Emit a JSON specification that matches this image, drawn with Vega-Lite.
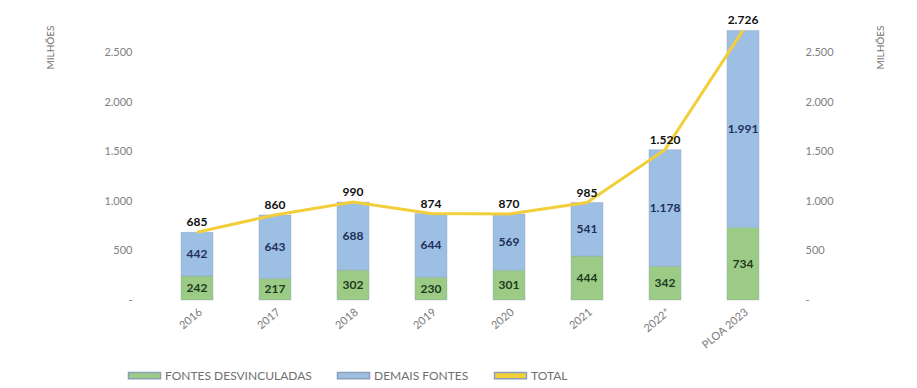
{
  "$schema": "https://vega.github.io/schema/vega-lite/v6.json",
  "autosize": {"type": "none"},
  "padding": {"left": 158, "top": 23, "right": 135, "bottom": 88},
  "width": 624,
  "height": 277,
  "background": "white",
  "config": {
    "locale": {"number": {"decimal": ",", "thousands": ".", "grouping": [3], "currency": ["R$", ""]}},
    "view": {"stroke": null},
    "font": "Lato",
    "axis": {"labelFont": "Lato", "titleFont": "Lato", "labelColor": "#808080", "labelFontSize": 11, "grid": false, "ticks": false, "domain": false}
  },
  "datasets": {
    "segments": [
      {"ano": "2016", "serie": "FONTES DESVINCULADAS", "valor": 242},
      {"ano": "2016", "serie": "DEMAIS FONTES", "valor": 442},
      {"ano": "2017", "serie": "FONTES DESVINCULADAS", "valor": 217},
      {"ano": "2017", "serie": "DEMAIS FONTES", "valor": 643},
      {"ano": "2018", "serie": "FONTES DESVINCULADAS", "valor": 302},
      {"ano": "2018", "serie": "DEMAIS FONTES", "valor": 688},
      {"ano": "2019", "serie": "FONTES DESVINCULADAS", "valor": 230},
      {"ano": "2019", "serie": "DEMAIS FONTES", "valor": 644},
      {"ano": "2020", "serie": "FONTES DESVINCULADAS", "valor": 301},
      {"ano": "2020", "serie": "DEMAIS FONTES", "valor": 569},
      {"ano": "2021", "serie": "FONTES DESVINCULADAS", "valor": 444},
      {"ano": "2021", "serie": "DEMAIS FONTES", "valor": 541},
      {"ano": "2022*", "serie": "FONTES DESVINCULADAS", "valor": 342},
      {"ano": "2022*", "serie": "DEMAIS FONTES", "valor": 1178},
      {"ano": "PLOA 2023", "serie": "FONTES DESVINCULADAS", "valor": 734},
      {"ano": "PLOA 2023", "serie": "DEMAIS FONTES", "valor": 1991}
    ],
    "totals": [
      {"ano": "2016", "total": 685},
      {"ano": "2017", "total": 860},
      {"ano": "2018", "total": 990},
      {"ano": "2019", "total": 874},
      {"ano": "2020", "total": 870},
      {"ano": "2021", "total": 985},
      {"ano": "2022*", "total": 1520},
      {"ano": "PLOA 2023", "total": 2726}
    ]
  },
  "encoding": {
    "x": {
      "field": "ano", "type": "nominal", "sort": null, "title": null,
      "scale": {"paddingInner": 0.59, "paddingOuter": 0.295},
      "axis": {"labelAngle": -40, "labelPadding": 6, "labelColor": "#7a7a7a"}
    }
  },
  "layer": [
    {
      "data": {"name": "segments"},
      "encoding": {
        "y": {
          "field": "valor", "type": "quantitative", "stack": "zero",
          "scale": {"domain": [0, 2800], "nice": false},
          "axis": {
            "orient": "left", "values": [0, 500, 1000, 1500, 2000, 2500],
            "labelExpr": "datum.value == 0 ? '-' : format(datum.value, ',d')",
            "labelPadding": 26,
            "title": "MILHÕES", "titleAngle": -90, "titleAlign": "right", "titleBaseline": "middle",
            "titleX": -108, "titleY": 2, "titleFontSize": 10, "titleFontWeight": "normal", "titleColor": "#707070"
          }
        },
        "order": {"field": "serie", "sort": "descending"}
      },
      "layer": [
        {
          "mark": {"type": "bar", "stroke": "#8aa0b8", "strokeWidth": 0.6, "strokeOpacity": 0.6},
          "encoding": {
            "color": {
              "field": "serie", "type": "nominal",
              "scale": {"domain": ["FONTES DESVINCULADAS", "DEMAIS FONTES", "TOTAL"], "range": ["#9ccb86", "#9dbfe4", "#f2cf3a"]},
              "legend": {
                "orient": "none", "direction": "horizontal", "legendX": -25, "legendY": 341,
                "title": null, "labelFont": "Lato", "labelFontSize": 12, "labelColor": "#707070",
                "symbolSize": 455, "labelOffset": 9, "columnPadding": 22,
                "symbolType": "M-1.5,-0.3L1.5,-0.3L1.5,0.3L-1.5,0.3Z",
                "encode": {"symbols": {"update": {"shape": {"signal": "datum.value === 'TOTAL' ? 'M-1.5,-0.1L1.5,-0.1L1.5,0.1L-1.5,0.1Z' : 'M-1.5,-0.3L1.5,-0.3L1.5,0.3L-1.5,0.3Z'"}, "strokeWidth": {"value": 0}}}}
              }
            }
          }
        },
        {
          "mark": {"type": "text", "fontWeight": "bold", "fontSize": 12, "baseline": "middle", "font": "Lato"},
          "encoding": {
            "y": {"field": "valor", "type": "quantitative", "stack": "zero", "bandPosition": 0.5},
            "text": {"field": "valor", "type": "quantitative", "format": ",d"},
            "color": {
              "condition": {"test": "datum.serie === 'DEMAIS FONTES'", "value": "#1f2f5a"},
              "value": "#1e3a1e"
            }
          }
        }
      ]
    },
    {
      "data": {"name": "totals"},
      "encoding": {
        "y": {
          "field": "total", "type": "quantitative",
          "scale": {"domain": [0, 2800], "nice": false},
          "axis": {
            "orient": "right", "values": [0, 500, 1000, 1500, 2000, 2500],
            "labelExpr": "datum.value == 0 ? '-' : format(datum.value, ',d')",
            "labelPadding": 23,
            "title": "MILHÕES", "titleAngle": -90, "titleAlign": "right", "titleBaseline": "middle",
            "titleX": 98, "titleY": 2, "titleFontSize": 10, "titleFontWeight": "normal", "titleColor": "#707070"
          }
        }
      },
      "layer": [
        {
          "mark": {"type": "line", "color": "#f2cf3a", "strokeWidth": 3},
          "encoding": {}
        },
        {
          "mark": {"type": "text", "fontWeight": "bold", "fontSize": 12, "baseline": "bottom", "dy": -3, "color": "#111111", "font": "Lato"},
          "encoding": {
            "text": {"field": "total", "type": "quantitative", "format": ",d"}
          }
        }
      ]
    }
  ],
  "resolve": {"scale": {"y": "independent"}}
}
